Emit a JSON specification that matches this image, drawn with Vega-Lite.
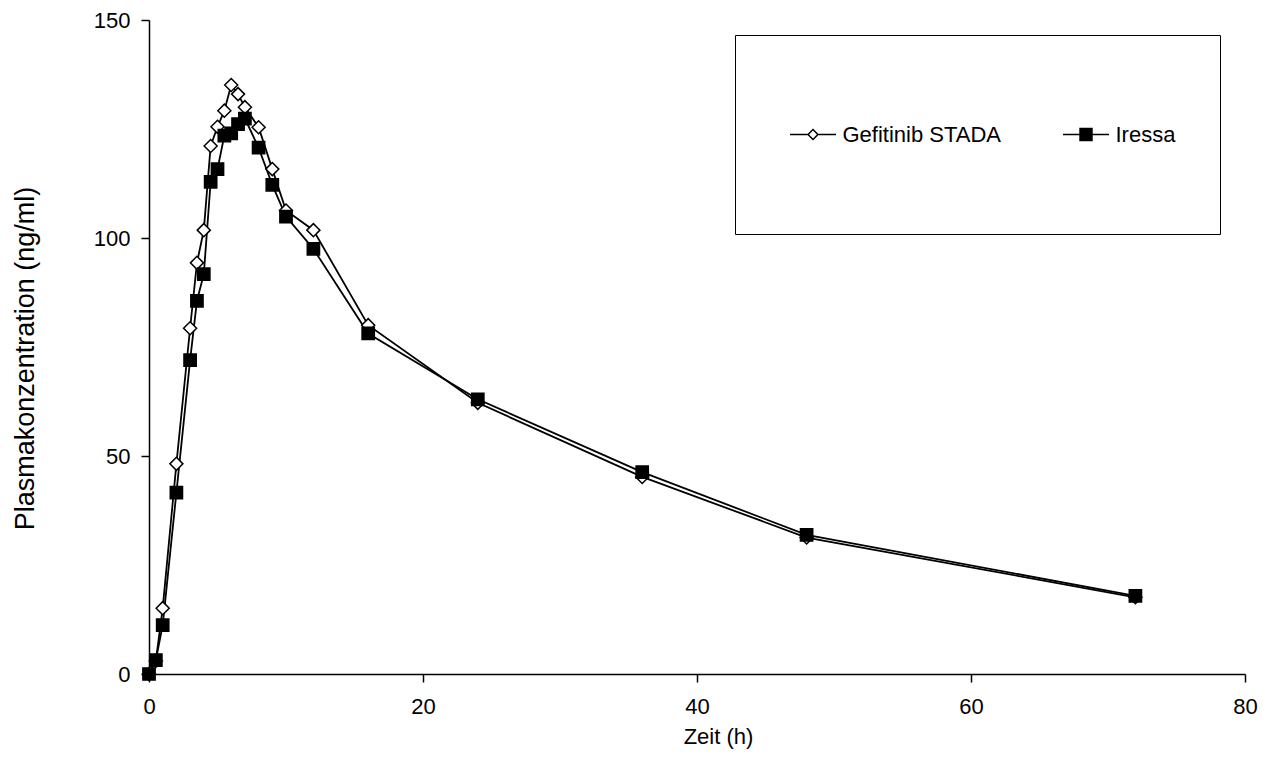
{
  "$schema": "https://vega.github.io/schema/vega-lite/v6.json",
  "width": 1096,
  "height": 654,
  "autosize": {"type": "none"},
  "padding": {"left": 149, "top": 20, "right": 32, "bottom": 84},
  "background": "white",
  "config": {
    "view": {"stroke": null},
    "font": "Liberation Sans",
    "axis": {
      "grid": false,
      "domainColor": "black",
      "domainWidth": 1.5,
      "tickColor": "black",
      "tickWidth": 1.5,
      "tickSize": 8,
      "labelFontSize": 22,
      "labelColor": "black",
      "labelFont": "Liberation Sans",
      "titleFont": "Liberation Sans",
      "titleFontWeight": "normal",
      "titleColor": "black",
      "labelFlush": false
    }
  },
  "data": {
    "values": [
      {"s": "Gefitinib STADA", "t": 0, "c": 0},
      {"s": "Gefitinib STADA", "t": 0.5, "c": 3.0},
      {"s": "Gefitinib STADA", "t": 1, "c": 15.1},
      {"s": "Gefitinib STADA", "t": 2, "c": 48.2},
      {"s": "Gefitinib STADA", "t": 3, "c": 79.3},
      {"s": "Gefitinib STADA", "t": 3.5, "c": 94.3},
      {"s": "Gefitinib STADA", "t": 4, "c": 101.8},
      {"s": "Gefitinib STADA", "t": 4.5, "c": 121.1},
      {"s": "Gefitinib STADA", "t": 5, "c": 125.5},
      {"s": "Gefitinib STADA", "t": 5.5, "c": 129.2},
      {"s": "Gefitinib STADA", "t": 6, "c": 135.1},
      {"s": "Gefitinib STADA", "t": 6.5, "c": 133.0},
      {"s": "Gefitinib STADA", "t": 7, "c": 130.0},
      {"s": "Gefitinib STADA", "t": 8, "c": 125.4},
      {"s": "Gefitinib STADA", "t": 9, "c": 115.8},
      {"s": "Gefitinib STADA", "t": 10, "c": 106.3},
      {"s": "Gefitinib STADA", "t": 12, "c": 101.8},
      {"s": "Gefitinib STADA", "t": 16, "c": 80.0},
      {"s": "Gefitinib STADA", "t": 24, "c": 62.2},
      {"s": "Gefitinib STADA", "t": 36, "c": 45.2},
      {"s": "Gefitinib STADA", "t": 48, "c": 31.3},
      {"s": "Gefitinib STADA", "t": 72, "c": 17.6},
      {"s": "Iressa", "t": 0, "c": 0},
      {"s": "Iressa", "t": 0.5, "c": 3.2},
      {"s": "Iressa", "t": 1, "c": 11.2},
      {"s": "Iressa", "t": 2, "c": 41.6},
      {"s": "Iressa", "t": 3, "c": 72.0},
      {"s": "Iressa", "t": 3.5, "c": 85.6},
      {"s": "Iressa", "t": 4, "c": 91.7},
      {"s": "Iressa", "t": 4.5, "c": 112.9},
      {"s": "Iressa", "t": 5, "c": 115.8},
      {"s": "Iressa", "t": 5.5, "c": 123.5},
      {"s": "Iressa", "t": 6, "c": 124.0},
      {"s": "Iressa", "t": 6.5, "c": 126.1},
      {"s": "Iressa", "t": 7, "c": 127.4},
      {"s": "Iressa", "t": 8, "c": 120.7},
      {"s": "Iressa", "t": 9, "c": 112.2},
      {"s": "Iressa", "t": 10, "c": 104.9},
      {"s": "Iressa", "t": 12, "c": 97.5},
      {"s": "Iressa", "t": 16, "c": 78.1},
      {"s": "Iressa", "t": 24, "c": 63.0},
      {"s": "Iressa", "t": 36, "c": 46.3},
      {"s": "Iressa", "t": 48, "c": 31.9},
      {"s": "Iressa", "t": 72, "c": 17.9}
    ]
  },
  "encoding": {
    "x": {
      "field": "t",
      "type": "quantitative",
      "scale": {"domain": [0, 80], "nice": false, "zero": false},
      "axis": {
        "values": [0, 20, 40, 60, 80],
        "title": "Zeit (h)",
        "labelPadding": 14,
        "titleFontSize": 22,
        "titlePadding": 9,
        "titleX": 569
      }
    },
    "y": {
      "field": "c",
      "type": "quantitative",
      "scale": {"domain": [0, 150], "nice": false},
      "axis": {
        "values": [0, 50, 100, 150],
        "title": "Plasmakonzentration (ng/ml)",
        "labelPadding": 11,
        "titleFontSize": 27,
        "titlePadding": 54,
        "titleY": 338
      }
    }
  },
  "layer": [
    {
      "mark": {"type": "line", "color": "black", "strokeWidth": 1.8},
      "encoding": {"detail": {"field": "s"}}
    },
    {
      "transform": [{"filter": "datum.s === 'Gefitinib STADA'"}],
      "mark": {"type": "point", "shape": "diamond", "filled": true, "fill": "white", "stroke": "black", "strokeWidth": 1.5, "opacity": 1, "size": 170}
    },
    {
      "transform": [{"filter": "datum.s === 'Iressa'"}],
      "mark": {"type": "point", "shape": "square", "filled": true, "fill": "black", "stroke": "black", "strokeWidth": 1.5, "opacity": 1, "size": 150}
    },
    {
      "mark": {"type": "point", "filled": true, "color": "black", "opacity": 0, "size": 1},
      "encoding": {
        "shape": {
          "field": "s",
          "type": "nominal",
          "scale": {
            "domain": ["Gefitinib STADA", "Iressa"],
            "range": [
              "M-0.768,-0.977M-0.768,0.977M-0.26,-0.0095L-0.064,-0.0095L-0.064,0.0095L-0.26,0.0095ZM0.064,-0.0095L0.26,-0.0095L0.26,0.0095L0.064,0.0095ZM0,-0.068L0.068,0L0,0.068L-0.068,0ZM0,-0.044L-0.044,0L0,0.044L0.044,0Z",
              "M-0.768,-0.977M-0.768,0.977M1.356,0M-0.26,-0.0095L0.26,-0.0095L0.26,0.0095L-0.26,0.0095ZM-0.076,-0.076L0.076,-0.076L0.076,0.076L-0.076,0.076Z"
            ]
          },
          "legend": {
            "title": null,
            "orient": "none",
            "legendX": 586,
            "legendY": 15,
            "direction": "horizontal",
            "padding": 10,
            "columnPadding": 13,
            "strokeColor": "black",
            "fillColor": "white",
            "symbolSize": 31329,
            "symbolStrokeWidth": 1.5,
            "symbolStrokeColor": "transparent",
            "symbolFillColor": "black",
            "symbolOpacity": 1,
            "symbolOffset": -21.5,
            "labelOffset": -60,
            "labelFontSize": 22,
            "labelColor": "black",
            "labelLimit": 400,
            "labelFont": "Liberation Sans"
          }
        }
      }
    }
  ]
}
